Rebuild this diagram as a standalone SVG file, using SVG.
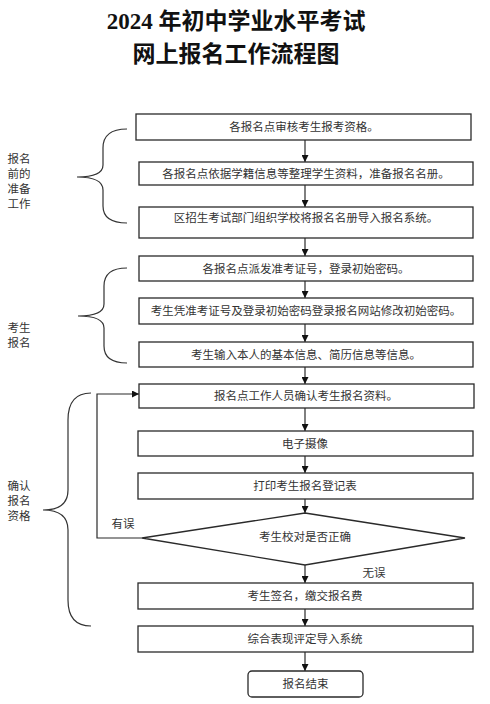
<svg xmlns="http://www.w3.org/2000/svg" width="490" height="704" viewBox="0 0 490 704">
<style>
.box{fill:#fff;stroke:#2a2a2a;stroke-width:1.3}
.t{font-family:"Liberation Serif","Noto Sans CJK SC",serif;font-size:11.5px;fill:#333;text-anchor:middle;dominant-baseline:central}
.lbl{font-family:"Noto Sans CJK SC",sans-serif;font-size:11.5px;fill:#333;text-anchor:middle;dominant-baseline:central}
.title{font-family:"Liberation Serif","Noto Sans CJK SC",serif;font-size:23px;font-weight:bold;fill:#111;text-anchor:middle}
.ln{fill:none;stroke:#2a2a2a;stroke-width:1.2}
.br{fill:none;stroke:#333;stroke-width:1.2}
</style>
<defs>
<marker id="ah" viewBox="0 0 10 10" refX="10" refY="5" markerWidth="7" markerHeight="7" orient="auto" markerUnits="userSpaceOnUse">
<path d="M0,0 L10,5 L0,10 z" fill="#111"/>
</marker>
</defs>
<rect width="490" height="704" fill="#fff"/>
<text class="title" x="236" y="29">2024 年初中学业水平考试</text>
<text class="title" x="236" y="62">网上报名工作流程图</text>

<g id="brace1"><path class="br" d="M127,129 Q103,129 103,148 L103,165 Q103,177 77,177 Q103,177 103,190 L103,206 Q103,223 127,223"/></g>
<g id="brace2"><path class="br" d="M127,268 Q104,268 104,286 L104,304 Q104,316 78,316 Q104,316 104,328 L104,346 Q104,363 127,363"/></g>
<g id="brace3"><path class="br" d="M91,393 Q68,393 68,420 L68,490 Q68,510 43,510 Q68,510 68,530 L68,600 Q68,626 91,626"/></g>

<g id="label1"><text class="lbl" x="19" y="158">报名</text><text class="lbl" x="19" y="173">前的</text><text class="lbl" x="19" y="188">准备</text><text class="lbl" x="19" y="203">工作</text></g>
<g id="label2"><text class="lbl" x="19" y="327">考生</text><text class="lbl" x="19" y="342">报名</text></g>
<g id="label3"><text class="lbl" x="19" y="485">确认</text><text class="lbl" x="19" y="500">报名</text><text class="lbl" x="19" y="515">资格</text></g>

<g id="connectors">
<line class="ln" x1="305" y1="140" x2="305" y2="162" marker-end="url(#ah)"/>
<line class="ln" x1="305" y1="185" x2="305" y2="207" marker-end="url(#ah)"/>
<line class="ln" x1="305" y1="238" x2="305" y2="256" marker-end="url(#ah)"/>
<line class="ln" x1="305" y1="281" x2="305" y2="298" marker-end="url(#ah)"/>
<line class="ln" x1="305" y1="324" x2="305" y2="342" marker-end="url(#ah)"/>
<line class="ln" x1="305" y1="367" x2="305" y2="384" marker-end="url(#ah)"/>
<line class="ln" x1="305" y1="408" x2="305" y2="431" marker-end="url(#ah)"/>
<line class="ln" x1="305" y1="456" x2="305" y2="473" marker-end="url(#ah)"/>
<line class="ln" x1="305" y1="499" x2="305" y2="513" marker-end="url(#ah)"/>
<line class="ln" x1="305" y1="565" x2="305" y2="583" marker-end="url(#ah)"/>
<line class="ln" x1="305" y1="609" x2="305" y2="626" marker-end="url(#ah)"/>
<line class="ln" x1="305" y1="652" x2="305" y2="671" marker-end="url(#ah)"/>
<path class="ln" d="M142,538 L97,538 L97,394 L139,394" marker-end="url(#ah)"/>
<text class="lbl" x="123" y="523">有误</text>
<text class="lbl" x="374" y="572">无误</text>
</g>

<g id="n1"><rect class="box" x="136" y="114" width="335" height="26"/><text class="t" x="304" y="127">各报名点审核考生报考资格。</text></g>
<g id="n2"><rect class="box" x="139" y="162" width="334" height="23"/><text class="t" x="306" y="173.5">各报名点依据学籍信息等整理学生资料，准备报名名册。</text></g>
<g id="n3"><rect class="box" x="139" y="207" width="334" height="31"/><text class="t" x="306" y="218">区招生考试部门组织学校将报名名册导入报名系统。</text></g>
<g id="n4"><rect class="box" x="139" y="256" width="334" height="25"/><text class="t" x="306" y="268.5">各报名点派发准考证号，登录初始密码。</text></g>
<g id="n5"><rect class="box" x="139" y="298" width="334" height="26"/><text class="t" x="306" y="311">考生凭准考证号及登录初始密码登录报名网站修改初始密码。</text></g>
<g id="n6"><rect class="box" x="139" y="342" width="334" height="25"/><text class="t" x="306" y="354.5">考生输入本人的基本信息、简历信息等信息。</text></g>
<g id="n7"><rect class="box" x="139" y="384" width="335" height="24"/><text class="t" x="306" y="396">报名点工作人员确认考生报名资料。</text></g>
<g id="n8"><rect class="box" x="138" y="431" width="335" height="25"/><text class="t" x="305" y="443.5">电子摄像</text></g>
<g id="n9"><rect class="box" x="138" y="473" width="335" height="26"/><text class="t" x="305" y="486">打印考生报名登记表</text></g>
<g id="n10"><path class="box" d="M305,513 L465,538 L305,565 L142,538 Z"/><text class="t" x="305" y="537">考生校对是否正确</text></g>
<g id="n11"><rect class="box" x="138" y="583" width="335" height="26"/><text class="t" x="305" y="596">考生签名，缴交报名费</text></g>
<g id="n12"><rect class="box" x="138" y="626" width="335" height="26"/><text class="t" x="305" y="639">综合表现评定导入系统</text></g>
<g id="n13"><rect class="box" x="248" y="671" width="115" height="26" rx="4"/><text class="t" x="305.5" y="684">报名结束</text></g>
</svg>
